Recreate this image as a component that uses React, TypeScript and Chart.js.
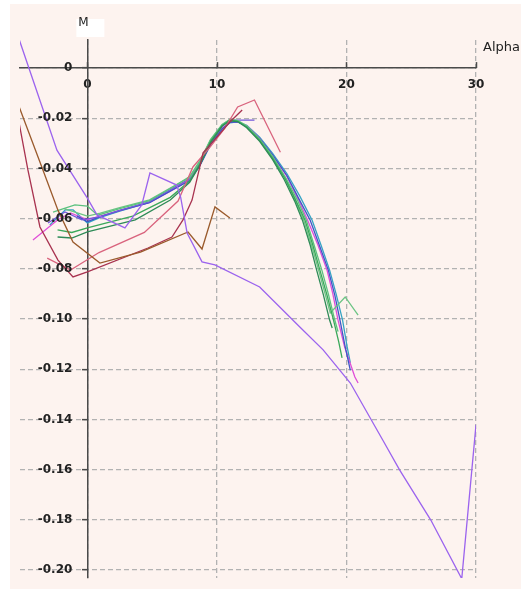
import React, { useEffect, useRef } from 'react';
import { Chart, registerables } from 'chart.js';

Chart.register(...registerables);

// Axis ranges
const X_MIN = -5.2;
const X_MAX = 30;
const Y_MIN = -0.2032;
const Y_MAX = 0.0112;
const X_STEP = 10;
const Y_STEP = 0.02;

// Series values (Alpha, M)
const purpleX = [-5.5, -2.35, 0, 0.74, 2.9, 4.2, 4.83, 6.9, 7.2, 7.7, 8.85, 9.85, 13.3, 16.4, 18.2, 20.3, 22.8, 24.1, 26.5, 28.9, 30];
const purpleY = [0.015, -0.0327, -0.0518, -0.0585, -0.0637, -0.0545, -0.0418, -0.0466, -0.0514, -0.0657, -0.0772, -0.0784, -0.0872, -0.1032, -0.1123, -0.1255, -0.1482, -0.1601, -0.18, -0.2035, -0.1422];

const brownX = [-5.3, -3.43, -2.27, -1.11, 0.97, 4.1, 7.77, 8.85, 9.85, 11.0];
const brownY = [-0.015, -0.0406, -0.0566, -0.0693, -0.0777, -0.0733, -0.0653, -0.0721, -0.0553, -0.0597];

const maroonX = [-5.3, -4.59, -3.66, -2.27, -1.11, 0, 4.68, 6.53, 7.38, 8.08, 8.93, 10.0, 11.0, 11.95];
const maroonY = [-0.021, -0.0406, -0.0633, -0.0765, -0.0832, -0.0812, -0.0717, -0.0673, -0.0605, -0.0526, -0.0338, -0.0275, -0.0215, -0.0167];

const roseX = [-3.1, -1.3, 0.9, 4.4, 7.0, 8.15, 9.47, 10.6, 11.6, 12.9, 14.9];
const roseY = [-0.0757, -0.0805, -0.0735, -0.0655, -0.053, -0.0394, -0.0315, -0.024, -0.0155, -0.0127, -0.0335];

const tealX = [-2.9, -1.7, -1.1, 0, 1, 2.5, 4.8, 6.4, 7.9, 8.7, 9.5, 10.4, 11, 11.6, 12.3, 13.3, 14.3, 15.4, 16.4, 17.35, 18.0, 18.7, 19.2, 19.7, 20.05, 20.3];
const tealY = [-0.0625, -0.0565, -0.0565, -0.0617, -0.0595, -0.057, -0.0535, -0.0488, -0.0445, -0.0385, -0.0305, -0.0245, -0.0218, -0.0214, -0.0228, -0.0275, -0.034, -0.042, -0.051, -0.0606, -0.07, -0.0805, -0.09, -0.1004, -0.111, -0.1175];

const magentaX = [-4.2, -2.3, -1.3, 0, 1, 2.5, 4.8, 6.4, 7.9, 8.7, 9.5, 10.4, 11, 11.6, 12.3, 13.3, 14.3, 15.4, 16.3, 17.0, 17.8, 18.5, 18.95, 19.35, 19.85, 20.65, 20.9];
const magentaY = [-0.0685, -0.0605, -0.0577, -0.0605, -0.059, -0.0567, -0.0535, -0.049, -0.0445, -0.0382, -0.03, -0.024, -0.0215, -0.0213, -0.023, -0.028, -0.0348, -0.0432, -0.0525, -0.0606, -0.0705, -0.0805, -0.09, -0.1004, -0.111, -0.1231, -0.1255];

const blueX = [-0.8, 0, 1, 2.5, 4.8, 6.4, 7.9, 8.7, 9.5, 10.4, 11, 11.6, 12.3, 13.3, 14.3, 15.4, 16.3, 17.2, 17.9, 18.6, 19.1, 19.5, 19.9, 20.3];
const blueY = [-0.059, -0.0612, -0.0592, -0.0568, -0.0536, -0.049, -0.0448, -0.0388, -0.0305, -0.0242, -0.0216, -0.0214, -0.0232, -0.028, -0.0346, -0.0428, -0.0518, -0.0606, -0.0705, -0.0805, -0.0905, -0.1004, -0.111, -0.1205];

const violetX = [-3.04, -1.73, -0.42, 1, 2.5, 4.8, 6.4, 7.9, 8.7, 9.5, 10.4, 11, 11.6, 12.9];
const violetY = [-0.0617, -0.0573, -0.0605, -0.0592, -0.0567, -0.0532, -0.0484, -0.044, -0.0375, -0.029, -0.0228, -0.0208, -0.0207, -0.0207];

const lightGreenX = [-2.65, -0.96, 0, 0.8, 2.5, 4.8, 6.4, 7.9, 8.7, 9.5, 10.4, 11, 11.6, 12.3, 13.3, 14.3, 15.4, 16.2, 16.9, 17.5, 18.1, 18.6, 19.1, 19.35];
const lightGreenY = [-0.0574, -0.0545, -0.055, -0.0586, -0.056, -0.0528, -0.048, -0.0432, -0.0368, -0.0285, -0.0225, -0.0205, -0.021, -0.0232, -0.0285, -0.0355, -0.0445, -0.0525, -0.0606, -0.0705, -0.0805, -0.09, -0.1004, -0.105];

const seaGreenX = [-2.3, -1.2, 0, 3.7, 6.4, 7.9, 8.7, 9.5, 10.4, 11, 11.6, 12.3, 13.3, 14.3, 15.2, 16.0, 16.6, 17.2, 17.7, 18.2, 18.7, 18.9];
const seaGreenY = [-0.0673, -0.0677, -0.0653, -0.0605, -0.0526, -0.0455, -0.0385, -0.0298, -0.0232, -0.021, -0.0213, -0.0238, -0.0292, -0.0365, -0.0445, -0.053, -0.0606, -0.0705, -0.0805, -0.09, -0.1004, -0.1036];

const greenX = [-2.3, -1.2, 0, 3.5, 6.4, 7.9, 8.7, 9.5, 10.4, 11, 11.6, 12.3, 13.3, 14.3, 15.3, 16.1, 16.8, 17.4, 17.95, 18.5, 19.0, 19.4, 19.66];
const greenY = [-0.0645, -0.0655, -0.0637, -0.059, -0.0515, -0.045, -0.038, -0.0293, -0.023, -0.0208, -0.0212, -0.0235, -0.0288, -0.036, -0.0445, -0.0528, -0.0606, -0.0705, -0.0805, -0.0905, -0.1004, -0.109, -0.1155];

const greenBumpX = [-1.8, 0, 1, 2.5, 4.8, 6.4, 7.9, 8.7, 9.5, 10.4, 11, 11.6, 12.3, 13.3, 14.3, 15.3, 16.0, 16.7, 17.3, 17.85, 18.3, 18.75, 19.9, 20.9];
const greenBumpY = [-0.056, -0.059, -0.0578, -0.0556, -0.0525, -0.0478, -0.0436, -0.0372, -0.0288, -0.0227, -0.0205, -0.0208, -0.023, -0.0283, -0.0352, -0.0438, -0.052, -0.0606, -0.0705, -0.0805, -0.089, -0.0976, -0.0912, -0.0984];

const SERIES: [number[], number[], string][] = [
  [purpleX, purpleY, '#9b63ee'],
  [brownX, brownY, '#9a5a2c'],
  [maroonX, maroonY, '#a8324f'],
  [roseX, roseY, '#d9637d'],
  [seaGreenX, seaGreenY, '#2e8b57'],
  [greenX, greenY, '#3aa85a'],
  [lightGreenX, lightGreenY, '#5cc27f'],
  [greenBumpX, greenBumpY, '#6cc484'],
  [violetX, violetY, '#7258dc'],
  [blueX, blueY, '#3f55c8'],
  [magentaX, magentaY, '#e04ed8'],
  [tealX, tealY, '#36a3c4'],
];

const FONT = '"DejaVu Sans", Verdana, sans-serif';
const yLabel = (v: number) => (Math.abs(v) < 1e-9 ? '0' : Number(v).toFixed(2));

const decor = {
  id: 'decor',
  afterDraw(chart: any) {
    const { ctx, chartArea, scales } = chart;
    const xs = scales.x;
    const ys = scales.y;
    const axisY = ys.getPixelForValue(0);
    const axisX = xs.getPixelForValue(0);
    ctx.save();
    ctx.strokeStyle = '#4a4a4a';
    ctx.lineWidth = 1.5;
    xs.ticks.forEach((t: any) => {
      const px = Math.round(xs.getPixelForValue(t.value)) + 0.5;
      ctx.beginPath();
      ctx.moveTo(px, axisY);
      ctx.lineTo(px, axisY - 6);
      ctx.stroke();
    });
    // y tick labels, left of the axis
    ctx.fillStyle = '#222';
    ctx.font = 'bold 12px ' + FONT;
    ctx.textAlign = 'right';
    ctx.textBaseline = 'middle';
    ys.ticks.forEach((t: any) => {
      const py = ys.getPixelForValue(t.value);
      ctx.fillText(yLabel(t.value), axisX - 15, py);
    });
    ctx.fillStyle = '#ffffff';
    ctx.fillRect(axisX - 11, chartArea.top - 21, 28, 18);
    ctx.fillStyle = '#222';
    ctx.font = '12px ' + FONT;
    ctx.textBaseline = 'alphabetic';
    ctx.textAlign = 'left';
    ctx.fillText('M', axisX - 9, chartArea.top - 14);
    ctx.font = '13px ' + FONT;
    ctx.fillText('Alpha', chartArea.right + 7, chartArea.top + 11);
    ctx.restore();
  },
};

export default function App() {
  const ref = useRef<HTMLCanvasElement | null>(null);
  useEffect(() => {
    if (!ref.current) return;
    const chart = new Chart(ref.current, {
      type: 'line',
      data: {
        datasets: SERIES.map(([xs, ys, color]) => ({
          data: xs.map((x, i) => ({ x, y: ys[i] })),
          borderColor: color,
          backgroundColor: color,
          borderWidth: 1.3,
          pointRadius: 0,
          tension: 0,
          fill: false,
        })),
      },
      options: {
        animation: false,
        responsive: false,
        events: [],
        layout: { padding: { left: 20, top: 40, right: 45, bottom: 11 } },
        plugins: { legend: { display: false }, tooltip: { enabled: false } },
        scales: {
          x: {
            type: 'linear',
            position: { y: 0 },
            min: X_MIN,
            max: X_MAX,
            afterFit: (s: any) => { s.height = 0; },
            grid: { color: '#b2b2b2', lineWidth: 1.3, drawTicks: false },
            border: { display: true, color: '#4a4a4a', width: 1.5, dash: [5, 3] },
            ticks: {
              stepSize: X_STEP,
              includeBounds: false,
              padding: 10,
              maxRotation: 0,
              color: '#222',
              font: { family: FONT, size: 12, weight: 'bold' },
              callback: (v: any) => String(v),
            },
          },
          y: {
            type: 'linear',
            position: { x: 0 },
            min: Y_MIN,
            max: Y_MAX,
            afterFit: (s: any) => { s.width = 0; },
            grid: { color: '#b2b2b2', lineWidth: 1.3, drawTicks: true, tickLength: 5, tickColor: '#4a4a4a', tickWidth: 1.5, tickBorderDash: [] },
            border: { display: true, color: '#4a4a4a', width: 1.5, dash: [5, 3] },
            ticks: {
              stepSize: Y_STEP,
              includeBounds: false,
              display: false,
            },
          },
        },
      } as any,
      plugins: [decor],
    });
    return () => chart.destroy();
  }, []);
  return (
    <div style={{ position: 'absolute', left: 0, top: 0, width: 521, height: 589, background: '#ffffff' }}>
      <div style={{ position: 'absolute', left: 10, top: 4, width: 511, height: 585, background: '#fdf3ef' }} />
      <canvas ref={ref} width={521} height={589} style={{ position: 'absolute', left: 0, top: 0, width: 521, height: 589 }} />
    </div>
  );
}
